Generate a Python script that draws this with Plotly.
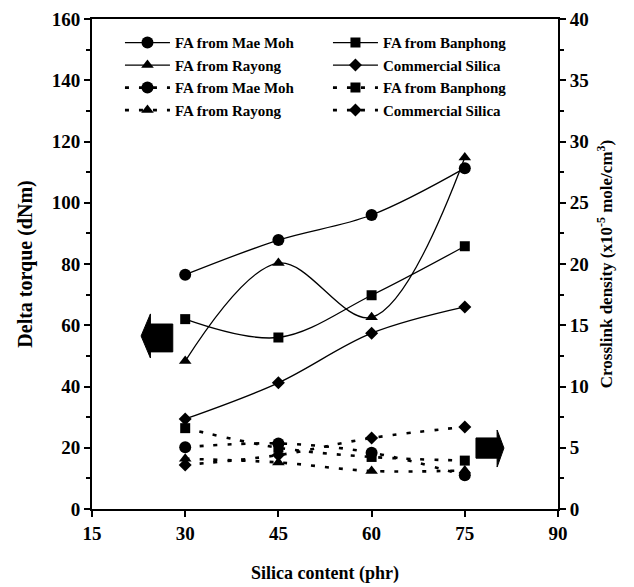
import plotly.graph_objects as go

# Silica loading (phr)
silica_phr = [30, 45, 60, 75]

# Delta torque (dNm), left axis
torque_mae_moh = [76.5, 87.8, 96.0, 111.3]
torque_banphong = [62.0, 56.0, 69.8, 85.8]
torque_rayong = [48.3, 80.3, 62.6, 114.8]
torque_commercial = [29.4, 41.2, 57.4, 66.0]

# Crosslink density (x10^-5 mole/cm^3), right axis
xlink_mae_moh = [5.05, 5.35, 4.6, 2.75]
xlink_banphong = [6.6, 5.0, 4.25, 3.95]
xlink_rayong = [4.1, 3.8, 3.1, 3.15]
xlink_commercial = [3.6, 4.4, 5.8, 6.7]

series_names = ["FA from Mae Moh", "FA from Banphong", "FA from Rayong", "Commercial Silica"]
symbols = ["circle", "square", "triangle-up", "diamond"]
marker_sizes = [12, 10, 11, 10]

x_ticks = [15, 30, 45, 60, 75, 90]

FONT = "Liberation Serif"
fig = go.Figure()

torque_sets = [torque_mae_moh, torque_banphong, torque_rayong, torque_commercial]
xlink_sets = [xlink_mae_moh, xlink_banphong, xlink_rayong, xlink_commercial]

for name, sym, ms, ys in zip(series_names, symbols, marker_sizes, torque_sets):
    fig.add_trace(go.Scatter(
        x=silica_phr, y=ys, name=name, mode="lines+markers",
        line=dict(color="black", width=1.3, shape="spline", smoothing=1),
        marker=dict(symbol=sym, size=ms, color="black"),
        yaxis="y",
    ))

for name, sym, ms, ys in zip(series_names, symbols, marker_sizes, xlink_sets):
    fig.add_trace(go.Scatter(
        x=silica_phr, y=ys, name=name, mode="lines+markers",
        line=dict(color="black", width=2.6, dash="4px,10px", shape="spline", smoothing=1),
        marker=dict(symbol=sym, size=ms, color="black"),
        yaxis="y2",
    ))

# Block arrows pointing at the relevant axis
left_arrow = "M 22.9 56.5 L 24.4 63.7 L 24.4 60.4 L 28.0 60.4 L 28.0 51.3 L 24.4 51.3 L 24.4 49.3 Z"
right_arrow = "M 81.3 19.9 L 80.2 25.8 L 80.2 23.2 L 76.8 23.2 L 76.8 16.6 L 80.2 16.6 L 80.2 13.7 Z"
for p in (left_arrow, right_arrow):
    fig.add_shape(type="path", path=p, xref="x", yref="y",
                  fillcolor="black", line=dict(color="black", width=1))

axis_common = dict(
    showgrid=False, zeroline=False, showline=True, linecolor="black", linewidth=2,
    ticks="outside", tickcolor="black", tickwidth=1.5, ticklen=6, automargin=False,
    tickfont=dict(family=FONT, size=19, color="black", weight="bold"),
)

fig.update_layout(
    width=634, height=587,
    margin=dict(l=92, r=76, t=19, b=78),
    paper_bgcolor="white", plot_bgcolor="white",
    font=dict(family=FONT, color="black"),
    showlegend=True,
    legend=dict(
        orientation="h", x=0.06, xanchor="left", y=0.985, yanchor="top",
        entrywidth=148, itemwidth=45, bgcolor="rgba(0,0,0,0)",
        font=dict(family=FONT, size=15, color="black", weight="bold"),
        traceorder="normal", itemclick=False,
    ),
    xaxis=dict(
        axis_common, range=[15, 90], tickvals=x_ticks, mirror=True,
        title=dict(text="Silica content (phr)", standoff=24,
                   font=dict(family=FONT, size=18, color="black", weight="bold")),
    ),
    yaxis=dict(
        axis_common, range=[0, 160], dtick=20,
        minor=dict(dtick=10, ticks="outside", ticklen=4, tickcolor="black"),
        title=dict(text="Delta torque (dNm)", standoff=14,
                   font=dict(family=FONT, size=20, color="black", weight="bold")),
    ),
    yaxis2=dict(
        axis_common, range=[0, 40], dtick=5, overlaying="y", side="right",
        minor=dict(dtick=2.5, ticks="outside", ticklen=4, tickcolor="black"),
        title=dict(text="Crosslink density (x10<sup>-5</sup> mole/cm<sup>3</sup>)", standoff=12,
                   font=dict(family=FONT, size=17, color="black", weight="bold")),
    ),
)

fig.write_html("out.html")
